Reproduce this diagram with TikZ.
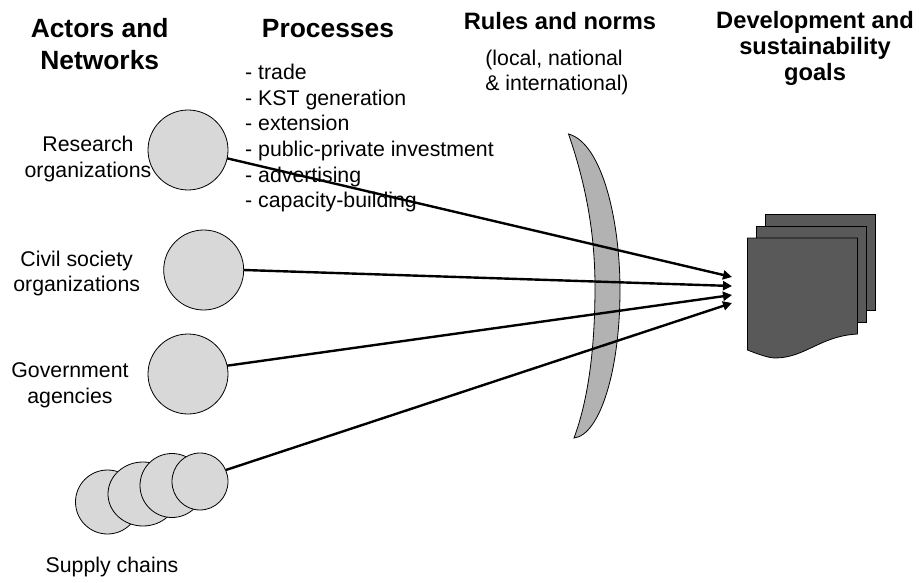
\documentclass[tikz,border=0pt]{standalone}
\usepackage{fontspec}
\setmainfont{Liberation Sans}
\usetikzlibrary{arrows.meta,shapes.geometric}
\definecolor{circgray}{HTML}{D8D8D8}
\definecolor{lensgray}{HTML}{B2B2B2}
\definecolor{docgray}{HTML}{595959}
\tikzset{
  actor/.style={circle,draw=black,line width=0.8pt,fill=circgray,minimum size=80pt,inner sep=0pt,outer sep=0pt},
  chain/.style={ellipse,draw=black,line width=0.8pt,fill=circgray,inner sep=0pt,outer sep=0pt},
  lbl/.style={align=center,font=\fontsize{21.3}{25.6}\selectfont,inner sep=0pt},
  head/.style={align=center,font=\fontsize{26.4}{32}\selectfont\bfseries,inner sep=0pt},
  headb/.style={align=center,font=\fontsize{23.7}{26}\selectfont\bfseries,inner sep=0pt},
  link/.style={line width=2.4pt,-{Triangle[length=9pt,width=9pt]}},
  sheet/.style={draw=black,line width=0.8pt,fill=docgray}
}
\begin{document}
\begin{tikzpicture}[x=1pt,y=-1pt]
\useasboundingbox (0,0) rectangle (919,583);
% headings
\node[head] at (99.7,44.5) {Actors and\\Networks};
\node[head] (proc) at (328,29) {Processes};
\node[headb] at (560,21) {Rules and norms};
\node[lbl,align=left] at (557,72.5) {(local, national\\\& international)};
\node[headb] at (815,48) {Development and\\sustainability\\goals};
% labels
\node[lbl] at (88,159) {Research\\organizations};
\node[lbl] at (76.7,273.5) {Civil society\\organizations};
\node[lbl] at (70,385.5) {Government\\agencies};
\node[lbl] at (112,567) {Supply chains};
\node[lbl,align=left,anchor=north west] at (245,64) {- trade\\- KST generation\\- extension\\- public-private investment\\- advertising\\- capacity-building};
% lens
\path[draw=black,line width=0.8pt,fill=lensgray] (568.5,134) .. controls (588,190) and (595,240) .. (595,287) .. controls (595,340) and (590,395) .. (574,438) .. controls (600,435) and (620,370) .. (620,290) .. controls (620,220) and (602,143) .. (568.5,134) -- cycle;
% documents
\path[sheet] (765,214.5) rectangle (875.5,310);
\path[sheet] (756.5,226) rectangle (866,322);
\path[sheet] (747.5,238) -- (857.5,238) -- (857.5,334) .. controls (820,336) and (805,358) .. (775,358) .. controls (768,358) and (755,353) .. (747.5,350) -- cycle;
% actors
\node[actor] (research) at (188,150) {};
\node[actor] (civil) at (203.7,270) {};
\node[actor] (gov) at (188,374) {};
\node[chain,minimum width=64pt,minimum height=64pt] (c1) at (107.5,502) {};
\node[chain,minimum width=70pt,minimum height=64pt] (c2) at (143,494) {};
\node[chain,minimum width=64pt,minimum height=64pt] (c3) at (172,485.5) {};
\node[chain,minimum width=56pt,minimum height=57pt] (c4) at (200,481.5) {};
% tips
\coordinate (t1) at (732,277);
\coordinate (t2) at (732,286);
\coordinate (t3) at (732,295);
\coordinate (t4) at (732,303);
\draw[link] (research.-12) -- (t1);
\draw[link] (civil.east) -- (t2);
\draw[link] (gov.12) -- (t3);
\draw[link] (c4.24) -- (t4);
\end{tikzpicture}
\end{document}
